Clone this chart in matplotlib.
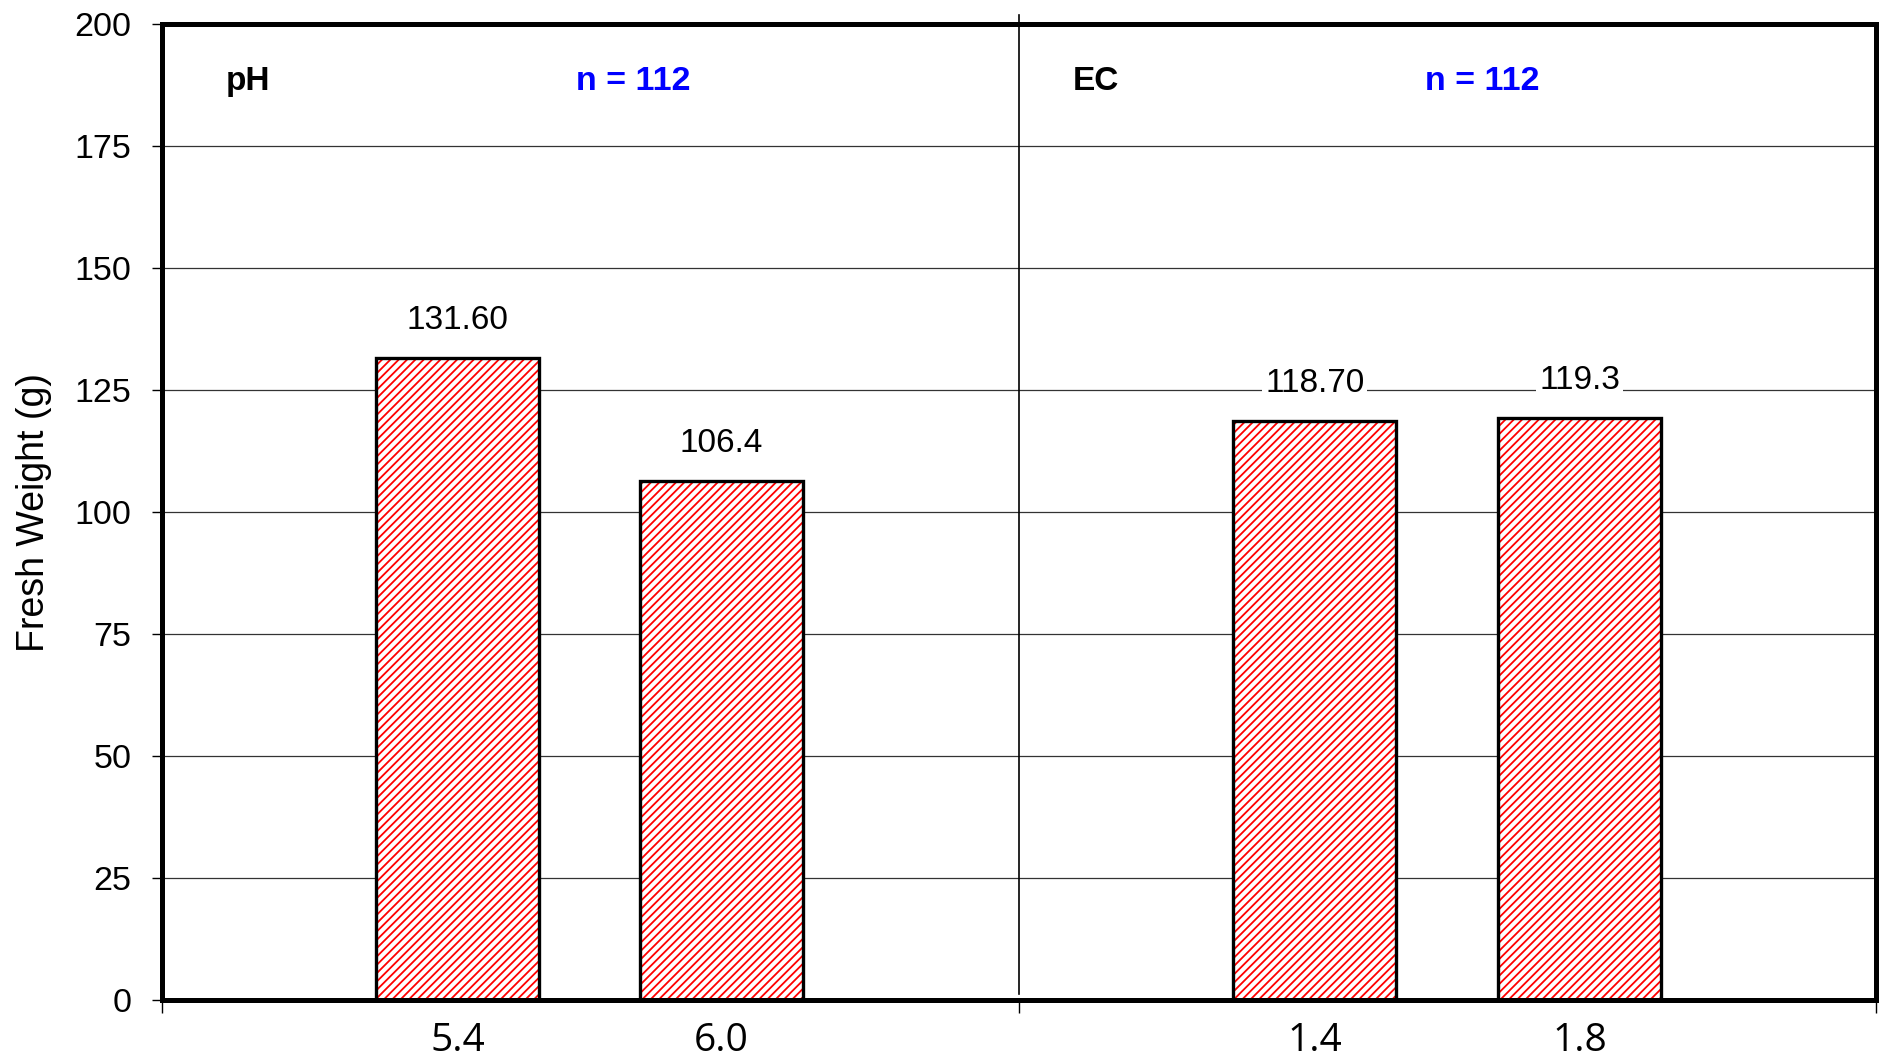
import matplotlib.pyplot as plt

plt.rcParams['font.family'] = ['Liberation Sans', 'DejaVu Sans']
plt.rcParams['hatch.linewidth'] = 1.3

# data
groups = ["pH", "EC"]
n_labels = ["n = 112", "n = 112"]
categories = ["5.4", "6.0", "1.4", "1.8"]
weights = [131.6, 106.4, 118.7, 119.3]
value_labels = ["131.60", "106.4", "118.70", "119.3"]

# layout (x positions in axis units, each group spans one unit)
bar_x = [0.345, 0.653, 1.345, 1.654]
bar_w = 0.19

fig = plt.figure(figsize=(18.81, 10.63), dpi=100)
ax = fig.add_axes([0.0861, 0.0593, 0.9113, 0.918])

ax.set_xlim(0, 2)
ax.set_ylim(0, 200)
ax.set_yticks(range(0, 201, 25))
ax.yaxis.grid(True, color='#333333', linewidth=0.9)
ax.set_axisbelow(True)

# hatched fill then black outline
ax.bar(bar_x, weights, width=bar_w, facecolor='white', edgecolor='red',
       linewidth=0, hatch='////', zorder=2)
ax.bar(bar_x, weights, width=bar_w, fill=False, edgecolor='black',
       linewidth=2.4, zorder=3)

for x, v, s in zip(bar_x, weights, value_labels):
    ax.annotate(s, (x, v), xytext=(0, 27), textcoords='offset points',
                ha='center', va='center', fontsize=24, zorder=4,
                bbox=dict(facecolor='white', edgecolor='none', pad=2))

# divider between groups
ax.plot([1, 1], [1.2, 201.8], color='black', linewidth=1.2, clip_on=False, zorder=1)

for i, (g, n) in enumerate(zip(groups, n_labels)):
    ax.text(i + 0.1 - 0.01 * i, 188.3, g, fontsize=24, fontweight='bold', ha='center', va='center')
    ax.text(i + 0.55 - 0.01 * i, 188.3, n, fontsize=24.5, fontweight='bold', color='blue',
            ha='center', va='center')

for sp in ax.spines.values():
    sp.set_linewidth(3.6)
    sp.set_zorder(5)

ax.set_xticks([0, 1, 2])
ax.set_xticklabels([])
ax.tick_params(axis='x', which='major', direction='out', length=9, width=1)
ax.set_xticks(bar_x, minor=True)
ax.set_xticklabels(categories, minor=True, fontsize=28, family='Open Sans')
ax.tick_params(axis='x', which='minor', length=0, pad=16)

ax.tick_params(axis='y', direction='out', length=7, width=1, labelsize=24.5, pad=15)
ax.set_ylabel("Fresh Weight (g)", fontsize=27, labelpad=16)

fig.savefig("out.png", dpi=100)
